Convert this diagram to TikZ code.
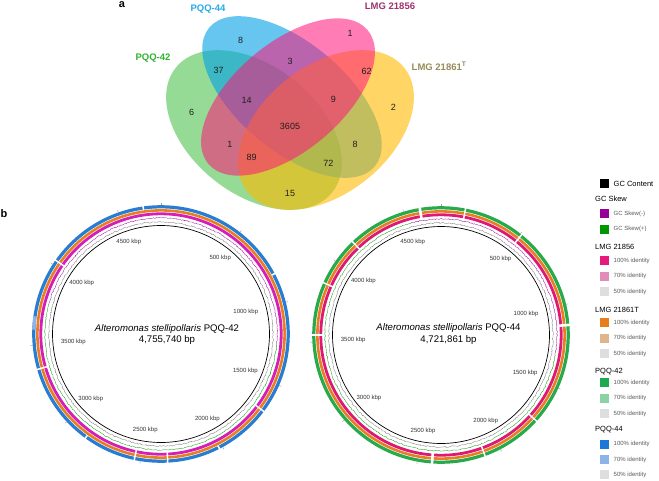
\documentclass[tikz,border=0pt]{standalone}
\usepackage{fontspec}
\setmainfont{Liberation Sans}
\usetikzlibrary{decorations.pathmorphing,calc}
\definecolor{vgreen}{RGB}{45,185,45}
\definecolor{vblue}{RGB}{0,160,230}
\definecolor{vpink}{RGB}{255,20,120}
\definecolor{vyellow}{RGB}{255,185,0}
\definecolor{lgreen}{RGB}{50,178,50}
\definecolor{lblue}{RGB}{40,170,230}
\definecolor{lpink}{RGB}{160,50,110}
\definecolor{lolive}{RGB}{150,140,90}
\definecolor{rmag}{RGB}{212,30,180}
\definecolor{rcrim}{RGB}{222,25,115}
\definecolor{rorange}{RGB}{232,125,35}
\definecolor{rblue}{RGB}{40,125,210}
\definecolor{rgreen}{RGB}{40,170,75}
\definecolor{skewm}{RGB}{150,0,150}
\definecolor{skewp}{RGB}{0,150,0}
\definecolor{gcgray}{RGB}{115,115,115}
\definecolor{lg1}{RGB}{230,25,125}
\definecolor{lg2}{RGB}{225,140,185}
\definecolor{lg3}{RGB}{222,222,222}
\definecolor{lo1}{RGB}{232,125,30}
\definecolor{lo2}{RGB}{222,182,140}
\definecolor{lq1}{RGB}{30,170,80}
\definecolor{lq2}{RGB}{140,210,165}
\definecolor{lb1}{RGB}{30,120,215}
\definecolor{lb2}{RGB}{140,180,230}
\definecolor{itemgray}{RGB}{90,90,90}
\pgfmathsetseed{7}
\begin{document}
\begin{tikzpicture}[x=1pt,y=1pt,yscale=-1,
  num/.style={font=\fontsize{9}{9}\selectfont, text=black!88, inner sep=0pt},
  setlabel/.style={font=\fontsize{9.5}{9.5}\selectfont\bfseries, inner sep=0pt},
  panel/.style={font=\fontsize{11}{11}\selectfont\bfseries, inner sep=0pt},
  kbp/.style={font=\fontsize{6}{6}\selectfont, text=black!80, inner sep=0.5pt},
  ctitle/.style={font=\fontsize{9.6}{9.6}\selectfont, inner sep=0pt},
  legsq/.style={minimum size=9pt, inner sep=0pt, outer sep=0pt},
  leghead/.style={font=\fontsize{7.5}{7.5}\selectfont, anchor=west, inner sep=0pt},
  legitem/.style={font=\fontsize{6}{6}\selectfont, text=itemgray, anchor=west, inner sep=0pt},
  gcline/.style={gcgray, line width=0.3pt, decorate, decoration={random steps, segment length=1.4pt, amplitude=0.6pt}},
  skewline/.style={line width=0.3pt, decorate, decoration={random steps, segment length=1.4pt, amplitude=0.5pt}},
  gapline/.style={white, line width=1.5pt},
  widegap/.style={white, line width=2.6pt},
  tickline/.style={black!40, line width=0.4pt}
]
\useasboundingbox (0,0) rectangle (659,480);
\fill[white] (0,0) rectangle (659,480);

% ---------------- panel a : Venn ----------------
\fill[vgreen, fill opacity=0.5, rotate around={38.4:(254,130)}] (254,130) ellipse [x radius=100, y radius=64];
\fill[vblue, fill opacity=0.6, rotate around={40:(292,97)}] (292,97) ellipse [x radius=108, y radius=54];
\fill[vyellow, fill opacity=0.6, rotate around={-38.4:(326,130)}] (326,130) ellipse [x radius=100, y radius=64];
\fill[vpink, fill opacity=0.55, rotate around={-40:(288,97)}] (288,97) ellipse [x radius=104, y radius=54];

\node[panel] (pa) at (122,5) {a};
\node[setlabel, text=lblue] (s44) at (208,9.5) {PQQ-44};
\node[setlabel, text=lpink] (s56) at (390,6.5) {LMG 21856};
\node[setlabel, text=lgreen] (s42) at (153,58.5) {PQQ-42};
\node[setlabel, text=lolive, anchor=west] (s61) at (411.5,66.5) {LMG 21861\textsuperscript{T}};

\node[num] (r8a) at (240.7,40.7) {8};
\node[num] (r1a) at (350,33.3) {1};
\node[num] (r37) at (218.7,70.7) {37};
\node[num] (r3) at (290,61) {3};
\node[num] (r62) at (366.7,71.7) {62};
\node[num] (r6) at (191.7,112.3) {6};
\node[num] (r14) at (246.7,100) {14};
\node[num] (r9) at (333.3,99.3) {9};
\node[num] (r2) at (393.3,107.3) {2};
\node[num] (r3605) at (290,126) {3605};
\node[num] (r1b) at (230,144.3) {1};
\node[num] (r8b) at (355,144.3) {8};
\node[num] (r89) at (251.7,157.3) {89};
\node[num] (r72) at (328.3,163.3) {72};
\node[num] (r15) at (290,193.3) {15};

% ---------------- panel b ----------------
\node[panel] (pb) at (4,214) {b};

\coordinate (L) at (161,334);
\coordinate (R) at (441,335);

% left circle (PQQ-42)
\draw[black, line width=0.7pt] (L) circle [radius=108.5];
\draw[gcline] (L) circle [radius=112];
\draw[skewline, skewp] (L) ++(5:116) arc [start angle=5, end angle=195, radius=116];
\draw[skewline, skewm] (L) ++(195:116) arc [start angle=195, end angle=365, radius=116];
\draw[rmag, line width=2.8pt] (L) circle [radius=120.2];
\draw[rorange, line width=2.6pt] (L) circle [radius=123.6];
\draw[rblue, line width=3.2pt] (L) circle [radius=127.2];
\draw[lb2, line width=3.2pt] (L) ++(182:127.2) arc [start angle=182, end angle=188, radius=127.2];
\foreach \t in {305,254,192,177,127} {
  \pgfmathsetmacro{\a}{\t-90}
  \draw[gapline] (L) ++(\a:117.5) -- ++(\a:12.8);
}
\foreach \t in {216,153,62,352} {
  \pgfmathsetmacro{\a}{\t-90}
  \draw[gapline] (L) ++(\a:125.4) -- ++(\a:4.8);
}
\foreach \k in {0,...,9} {
  \pgfmathsetmacro{\a}{\k*500/4755.740*360-90}
  \draw[tickline] (L) ++(\a:128.8) -- ++(\a:2.4);
}
\foreach \k in {1,...,9} {
  \pgfmathsetmacro{\th}{\k*500/4755.740*360}
  \pgfmathsetmacro{\a}{\th-90}
  \pgfmathsetmacro{\an}{90-\th}
  \pgfmathtruncatemacro{\kb}{\k*500}
  \node[kbp, anchor=\an] (lk\k) at ($(L)+(\a:101)$) {\kb\ kbp};
}
\node[ctitle] (lt1) at (167,329) {\textit{Alteromonas stellipollaris} PQQ-42};
\node[ctitle] (lt2) at (167,340.5) {4,755,740 bp};

% right circle (PQQ-44)
\draw[black, line width=0.7pt] (R) circle [radius=108.5];
\draw[gcline] (R) circle [radius=112];
\draw[skewline, skewp] (R) ++(10:116) arc [start angle=10, end angle=255, radius=116];
\draw[skewline, skewm] (R) ++(255:116) arc [start angle=255, end angle=370, radius=116];
\draw[rcrim, line width=2.8pt] (R) circle [radius=120.2];
\draw[rorange, line width=2.6pt] (R) circle [radius=123.6];
\draw[rgreen, line width=3.2pt] (R) circle [radius=127.2];
\foreach \t in {11,38.8,132,160,270,294,316.5} {
  \pgfmathsetmacro{\a}{\t-90}
  \draw[gapline] (R) ++(\a:117.5) -- ++(\a:12.8);
}
\foreach \t in {350.5,85.5,184} {
  \pgfmathsetmacro{\a}{\t-90}
  \draw[widegap] (R) ++(\a:117.5) -- ++(\a:12.8);
}
\foreach \k in {0,...,9} {
  \pgfmathsetmacro{\a}{\k*500/4721.861*360-90}
  \draw[tickline] (R) ++(\a:128.8) -- ++(\a:2.4);
}
\foreach \k in {1,...,9} {
  \pgfmathsetmacro{\th}{\k*500/4721.861*360}
  \pgfmathsetmacro{\a}{\th-90}
  \pgfmathsetmacro{\an}{90-\th}
  \pgfmathtruncatemacro{\kb}{\k*500}
  \node[kbp, anchor=\an] (rk\k) at ($(R)+(\a:101)$) {\kb\ kbp};
}
\node[ctitle] (rt1) at (448.5,328.5) {\textit{Alteromonas stellipollaris} PQQ-44};
\node[ctitle] (rt2) at (448.5,340.5) {4,721,861 bp};

% ---------------- legend ----------------
\node[legsq, fill=black] (q0) at (604.7,183.8) {};
\node[leghead] (h0) at (613.5,183.8) {GC Content};
\node[leghead] (h1) at (595,199.3) {GC Skew};
\node[leghead] (h2) at (595,247.3) {LMG 21856};
\node[leghead] (h3) at (595,310) {LMG 21861T};
\node[leghead] (h4) at (595,371.7) {PQQ-42};
\node[leghead] (h5) at (595,430) {PQQ-44};
\foreach \y/\c/\t [count=\i] in {
  213.8/skewm/GC Skew(-), 229.2/skewp/GC Skew(+),
  260.5/lg1/100\% identity, 276/lg2/70\% identity, 291.7/lg3/50\% identity,
  322.8/lo1/100\% identity, 338.3/lo2/70\% identity, 353.8/lg3/50\% identity,
  382.8/lq1/100\% identity, 398.3/lq2/70\% identity, 413.8/lg3/50\% identity,
  444.3/lb1/100\% identity, 459.5/lb2/70\% identity, 474.7/lg3/50\% identity} {
  \node[legsq, fill=\c] (q\i) at (604.7,\y) {};
  \node[legitem] (t\i) at (613.5,\y) {\t};
}
\end{tikzpicture}
\end{document}
